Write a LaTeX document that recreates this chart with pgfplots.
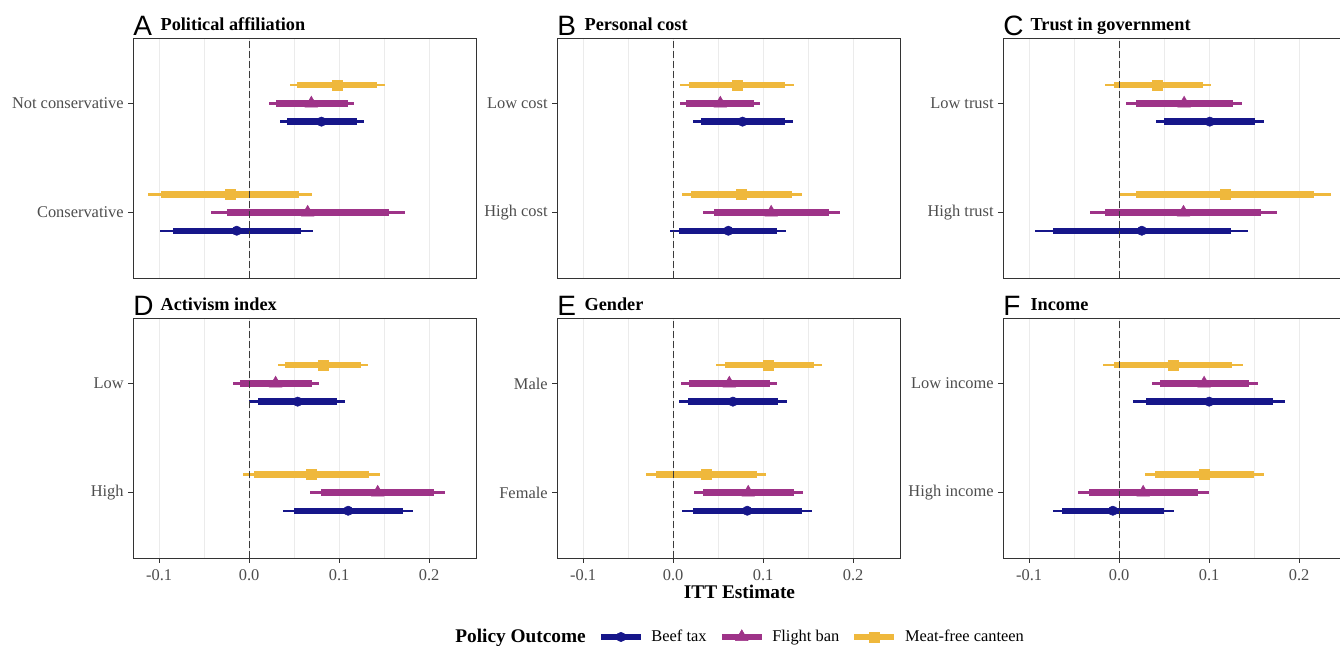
\documentclass[border=0pt]{standalone}
\usepackage{fontspec}
\setmainfont{Liberation Serif}
\newfontfamily\sansf{Liberation Sans}
\usepackage{pgfplots}
\usepackage{pgfplotstable}
\pgfplotsset{compat=1.18}

\definecolor{beef}{HTML}{16168A}
\definecolor{flight}{HTML}{9E3388}
\definecolor{meat}{HTML}{EFB83C}
\definecolor{gtext}{HTML}{4D4D4D}
\definecolor{gframe}{HTML}{333333}
\definecolor{gdash}{HTML}{3A3A3A}
\definecolor{ggrid}{HTML}{EBEBEB}

% rows: beef (top cat, bottom cat), flight, meat-free; y = category +/- dodge
\pgfplotstableread{
y      est     ilo     ihi     olo     ohi
1.8333 0.0803  0.0420  0.1200  0.0346  0.1271
0.8333 -0.0138 -0.0844 0.0576  -0.0985 0.0710
2.0    0.0691  0.0294  0.1093  0.0216  0.1164
1.0    0.0650  -0.0249 0.1554  -0.0424 0.1729
2.1667 0.0978  0.0532  0.1424  0.0457  0.1506
1.1667 -0.0212 -0.0974 0.0550  -0.1123 0.0699
}\tabA
\pgfplotstableread{
y      est     ilo     ihi     olo     ohi
1.8333 0.0771  0.0310  0.1244  0.0225  0.1332
0.8333 0.0613  0.0070  0.1151  -0.0033 0.1255
2.0    0.0524  0.0144  0.0897  0.0077  0.0970
1.0    0.1089  0.0454  0.1731  0.0332  0.1852
2.1667 0.0708  0.0177  0.1240  0.0077  0.1343
1.1667 0.0760  0.0199  0.1321  0.0096  0.1428
}\tabB
\pgfplotstableread{
y      est     ilo     ihi     olo     ohi
1.8333 0.1007  0.0500  0.1511  0.0404  0.1607
0.8333 0.0252  -0.0733 0.1244  -0.0930 0.1433
2.0    0.0722  0.0189  0.1263  0.0081  0.1367
1.0    0.0715  -0.0156 0.1581  -0.0322 0.1752
2.1667 0.0426  -0.0059 0.0926  -0.0156 0.1019
1.1667 0.1174  0.0189  0.2163  0.0000  0.2352
}\tabC
\pgfplotstableread{
y      est     ilo     ihi     olo     ohi
1.8333 0.0539  0.0093  0.0978  0.0000  0.1063
0.8333 0.1100  0.0502  0.1706  0.0379  0.1818
2.0    0.0294  -0.0100 0.0699  -0.0178 0.0773
1.0    0.1428  0.0799  0.2056  0.0680  0.2178
2.1667 0.0822  0.0401  0.1245  0.0320  0.1323
1.1667 0.0691  0.0056  0.1331  -0.0063 0.1450
}\tabD
\pgfplotstableread{
y      est     ilo     ihi     olo     ohi
1.8333 0.0664  0.0166  0.1170  0.0070  0.1262
0.8333 0.0823  0.0218  0.1432  0.0103  0.1546
2.0    0.0624  0.0177  0.1074  0.0092  0.1159
1.0    0.0834  0.0336  0.1343  0.0236  0.1439
2.1667 0.1059  0.0576  0.1561  0.0476  0.1649
1.1667 0.0365  -0.0188 0.0926  -0.0299 0.1037
}\tabE
\pgfplotstableread{
y      est     ilo     ihi     olo     ohi
1.8333 0.1000  0.0293  0.1707  0.0156  0.1844
0.8333 -0.0070 -0.0630 0.0496  -0.0737 0.0604
2.0    0.0944  0.0459  0.1441  0.0363  0.1537
1.0    0.0267  -0.0337 0.0874  -0.0459 0.0993
2.1667 0.0600  -0.0059 0.1256  -0.0178 0.1381
1.1667 0.0941  0.0396  0.1496  0.0285  0.1604
}\tabF

\newcommand{\tickfont}{\fontsize{12.3}{14}\selectfont}

% #1 table, #2 colour, #3 mark options, #4 row selection
\newcommand{\ciseries}[4]{%
  \addplot[draw=none, mark=none, forget plot, #4,
    error bars/.cd, x dir=both, x explicit, error mark=none,
    error bar style={draw=#2, line width=1.8pt}]
    table[x=est, y=y, x error plus expr=\thisrow{ohi}-\thisrow{est},
          x error minus expr=\thisrow{est}-\thisrow{olo}] {#1};
  \addplot[draw=none, mark=none, forget plot, #4,
    error bars/.cd, x dir=both, x explicit, error mark=none,
    error bar style={draw=#2, line width=4.8pt}]
    table[x=est, y=y, x error plus expr=\thisrow{ihi}-\thisrow{est},
          x error minus expr=\thisrow{est}-\thisrow{ilo}] {#1};
  \addplot[only marks, forget plot, #3, mark options={draw=#2, fill=#2, line width=0.4pt}, #4]
    table[x=est, y=y] {#1};
}

\newcommand{\panelplots}[1]{%
  \ciseries{#1}{beef}{mark=*, mark size=3.5pt}{skip coords between index={2}{6}}
  \ciseries{#1}{flight}{mark=triangle*, mark size=5.4pt}{skip coords between index={0}{2}, skip coords between index={4}{6}}
  \ciseries{#1}{meat}{mark=square*, mark size=3.7pt}{skip coords between index={0}{4}}
  \addplot[forget plot, draw=gdash, line width=0.9pt, dash pattern=on 5pt off 2.5pt]
    coordinates {(0,0.4) (0,2.6)};
}

\newcommand{\panelhead}[2]{%
  \node[anchor=base west, inner sep=0pt, yshift=1.9pt,
        font=\sansf\fontsize{21}{21}\selectfont] at (rel axis cs:0,1) {#1};
  \node[anchor=base west, inner sep=0pt, xshift=20.5pt, yshift=5.9pt,
        font=\bfseries\fontsize{13.7}{16}\selectfont] at (rel axis cs:0,1) {#2};
}

\pgfplotsset{
  panel/.style={
    width=257.25pt, height=180pt, scale only axis,
    anchor=north west,
    xmin=-0.129, xmax=0.252, ymin=0.4, ymax=2.6,
    xtick={-0.1,0,0.1,0.2}, minor xtick={-0.05,0.05,0.15},
    xmajorgrids=true, xminorgrids=true,
    major grid style={draw=ggrid, line width=0.8pt},
    minor grid style={draw=ggrid, line width=0.45pt},
    ytick={1,2},
    tick pos=left, tick align=outside,
    major tick length=3.5pt, minor tick length=0pt,
    tick style={draw=gframe, line width=0.6pt},
    axis line style={draw=gframe, line width=0.6pt},
    ticklabel style={font=\tickfont, text=gtext},
    xticklabel style={yshift=-2pt},
    clip mode=individual,
  },
  toprow/.style={panel, xticklabels={}, xmajorticks=false},
  botrow/.style={panel, xticklabels={-0.1,0.0,0.1,0.2}},
}

\begin{document}
\begin{tikzpicture}[x=1pt, y=1pt]

\begin{axis}[toprow, at={(99.75pt,-28.5pt)}, yticklabels={Conservative, Not conservative}]
  \panelplots{\tabA}
  \panelhead{A}{Political affiliation}
\end{axis}

\begin{axis}[toprow, at={(417.75pt,-28.5pt)}, yticklabels={High cost, Low cost}]
  \panelplots{\tabB}
  \panelhead{B}{Personal cost}
\end{axis}

\begin{axis}[toprow, at={(752.25pt,-28.5pt)}, yticklabels={High trust, Low trust}]
  \panelplots{\tabC}
  \panelhead{C}{Trust in government}
\end{axis}

\begin{axis}[botrow, at={(99.75pt,-238.5pt)}, yticklabels={High, Low}]
  \panelplots{\tabD}
  \panelhead{D}{Activism index}
\end{axis}

\begin{axis}[botrow, at={(417.75pt,-238.5pt)}, yticklabels={Female, Male},
  legend columns=4, legend cell align=left,
  legend image code/.code={\draw[mark repeat=2, mark phase=2, #1]
    plot coordinates {(0pt,0pt) (15pt,0pt) (30pt,0pt)};},
  legend style={at={(-0.3187,-0.329)}, anchor=west, draw=none, fill=none,
    inner sep=0pt, font=\tickfont, nodes={inner sep=0pt},
    /tikz/every odd column/.append style={column sep=5.5pt},
    /tikz/every even column/.append style={column sep=9pt}}]
  \panelplots{\tabE}
  \panelhead{E}{Gender}
  \addlegendimage{empty legend}
  \addlegendentry{\fontsize{14.5}{16}\selectfont\bfseries Policy Outcome}
  \addlegendimage{draw=beef, line width=4.8pt, mark=*, mark size=3.5pt, mark options={solid, fill=beef, line width=0.4pt}}
  \addlegendentry{Beef tax}
  \addlegendimage{draw=flight, line width=4.8pt, mark=triangle*, mark size=5.4pt, mark options={solid, fill=flight, line width=0.4pt}}
  \addlegendentry{Flight ban}
  \addlegendimage{draw=meat, line width=4.8pt, mark=square*, mark size=3.7pt, mark options={solid, fill=meat, line width=0.4pt}}
  \addlegendentry{Meat-free canteen}
\end{axis}

\begin{axis}[botrow, at={(752.25pt,-238.5pt)}, yticklabels={High income, Low income}]
  \panelplots{\tabF}
  \panelhead{F}{Income}
\end{axis}

\node[anchor=base, font=\bfseries\fontsize{14.5}{16}\selectfont] at (554.6pt,-448.5pt) {ITT Estimate};

\pgfresetboundingbox
\useasboundingbox (0pt,0pt) rectangle (1005pt,-484.5pt);
\end{tikzpicture}
\end{document}
